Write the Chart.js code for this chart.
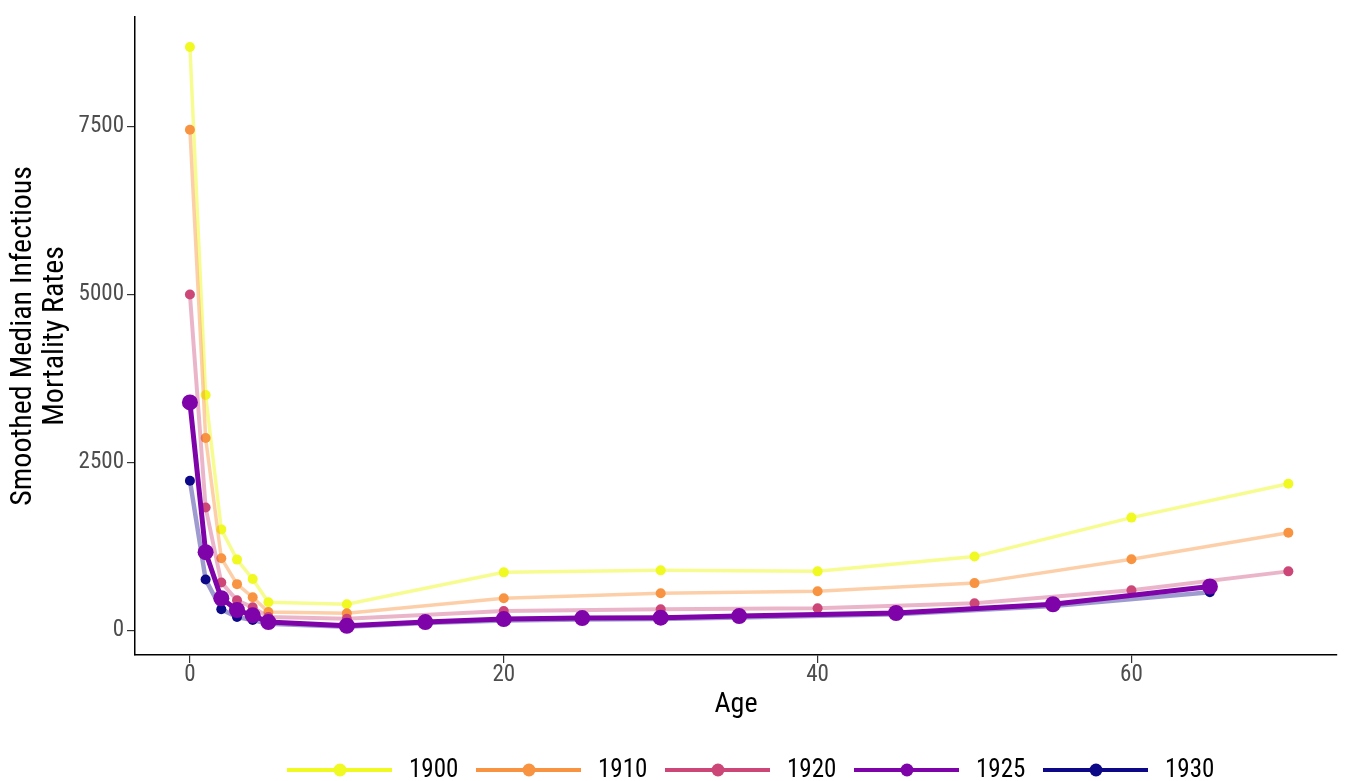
<!DOCTYPE html>
<html>
<head>
<meta charset="utf-8">
<script src="https://cdn.jsdelivr.net/npm/chart.js@4"></script>
<style>
html,body{margin:0;padding:0;background:#fff;}
#wrap{width:1345px;height:781px;position:relative;}
</style>
</head>
<body>
<div id="wrap"><canvas id="c" width="1345" height="781"></canvas></div>
<script>
// ---- data ----
const seriesLabels = ['1900', '1910', '1920', '1925', '1930'];
const ages1900 = [0, 1, 2, 3, 4, 5, 10, 20, 30, 40, 50, 60, 70];
const rates1900 = [8680, 3500, 1500, 1050, 760, 415, 385, 860, 890, 875, 1095, 1675, 2180];
const ages1910 = [0, 1, 2, 3, 4, 5, 10, 20, 30, 40, 50, 60, 70];
const rates1910 = [7450, 2860, 1070, 685, 490, 270, 250, 475, 550, 580, 700, 1055, 1450];
const ages1920 = [0, 1, 2, 3, 4, 5, 10, 20, 30, 40, 50, 60, 70];
const rates1920 = [4995, 1825, 710, 445, 340, 195, 170, 285, 310, 325, 400, 595, 875];
const ages1925 = [0, 1, 2, 3, 4, 5, 10, 15, 20, 25, 30, 35, 45, 55, 65];
const rates1925 = [3390, 1160, 475, 300, 220, 120, 65, 120, 165, 180, 185, 210, 255, 385, 650];
const ages1930 = [0, 1, 2, 3, 4, 5, 10, 15, 20, 25, 30, 35, 45, 55, 65];
const rates1930 = [2225, 755, 310, 195, 150, 95, 50, 105, 145, 160, 165, 190, 235, 360, 565];
const xTicks = [0, 20, 40, 60];
const yTicks = [0, 2500, 5000, 7500];

const FONT = '"Roboto Condensed", "Liberation Sans Narrow", Roboto, sans-serif';

function pts(xs, ys) { return xs.map((x, i) => ({x: x, y: ys[i]})); }

const colors = ['#F0F921', '#F89441', '#CC4778', '#7E03A8', '#0D0887'];
const lineColors = ['rgba(240,249,33,0.5)', 'rgba(248,148,65,0.45)', 'rgba(204,71,120,0.4)', '#7E03A8', 'rgba(13,8,135,0.4)'];
const lineWidths = [3.5, 3.5, 4, 5, 4.5];
const radii = [5, 5, 5, 8, 5];
const orders = [4, 3, 2, 0, 1];
const allAges = [ages1900, ages1910, ages1920, ages1925, ages1930];
const allRates = [rates1900, rates1910, rates1920, rates1925, rates1930];

const datasets = seriesLabels.map((lab, i) => ({
  label: lab,
  data: pts(allAges[i], allRates[i]),
  borderColor: lineColors[i],
  backgroundColor: colors[i],
  pointBackgroundColor: colors[i],
  pointBorderWidth: 0,
  pointRadius: radii[i],
  pointHoverRadius: radii[i],
  borderWidth: lineWidths[i],
  tension: 0,
  order: orders[i],
  showLine: true,
  fill: false
}));

const legendPlugin = {
  id: 'customLegend',
  afterDraw(chart) {
    const ctx = chart.ctx;
    const y = 770;
    const step = 189;
    let x0 = 287;
    ctx.save();
    chart.data.datasets.forEach((ds, i) => {
      const xs = x0 + i * step;
      ctx.strokeStyle = ds.backgroundColor;
      ctx.lineWidth = 4;
      ctx.beginPath();
      ctx.moveTo(xs, y);
      ctx.lineTo(xs + 105, y);
      ctx.stroke();
      ctx.fillStyle = ds.backgroundColor;
      ctx.beginPath();
      ctx.arc(xs + 53, y, 6.5, 0, Math.PI * 2);
      ctx.fill();
      ctx.fillStyle = '#000';
      ctx.font = '25px ' + FONT;
      ctx.textBaseline = 'middle';
      ctx.textAlign = 'left';
      ctx.fillText(ds.label, xs + 122, y + 1);
    });
    ctx.restore();
  }
};

new Chart(document.getElementById('c'), {
  type: 'scatter',
  data: { datasets: datasets },
  plugins: [legendPlugin],
  options: {
    responsive: false,
    animation: false,
    devicePixelRatio: 1,
    layout: { padding: { left: 0, right: 0, top: 14, bottom: 0 } },
    plugins: { legend: { display: false }, tooltip: { enabled: false } },
    scales: {
      x: {
        type: 'linear',
        min: -3.5,
        max: 73.1,
        afterFit(s) { s.height = 126; },
        afterBuildTicks(s) { s.ticks = xTicks.map(v => ({value: v})); },
        grid: { drawOnChartArea: false, drawTicks: true, tickLength: 8, color: '#333', lineWidth: 1.2 },
        border: { display: true, color: '#000', width: 1.5 },
        ticks: { color: '#4D4D4D', font: { family: FONT, size: 23, lineHeight: 1 }, padding: 1, maxRotation: 0, callback: v => String(v) },
        title: { display: true, text: 'Age', color: '#000', font: { family: FONT, size: 28, lineHeight: 1 }, padding: { top: 0, bottom: 62 } }
      },
      y: {
        type: 'linear',
        min: -370,
        max: 9130,
        afterFit(s) { s.width = 135; },
        afterBuildTicks(s) { s.ticks = yTicks.map(v => ({value: v})); },
        grid: { drawOnChartArea: false, drawTicks: true, tickLength: 8, color: '#333', lineWidth: 1.2 },
        border: { display: true, color: '#000', width: 1.5 },
        ticks: { color: '#4D4D4D', font: { family: FONT, size: 23 }, padding: 3, callback: v => String(v) },
        title: { display: true, text: ['Smoothed Median Infectious', 'Mortality Rates'], color: '#000', font: { family: FONT, size: 30, lineHeight: 1.07 }, padding: { top: 7, bottom: 0 } }
      }
    }
  }
});
</script>
</body>
</html>
